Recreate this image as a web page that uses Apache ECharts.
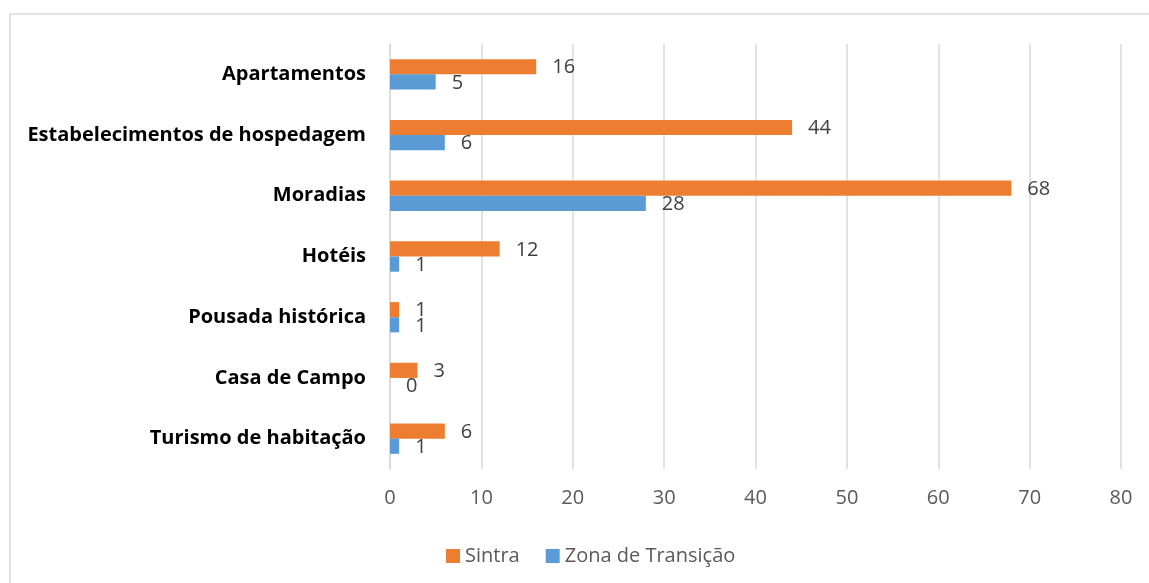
<!DOCTYPE html>
<html>
<head>
<meta charset="utf-8">
<script src="https://cdn.jsdelivr.net/npm/echarts@6/dist/echarts.min.js"></script>
<style>
  html, body { margin: 0; padding: 0; background: #fff; }
  #main { width: 1149px; height: 583px; }
</style>
</head>
<body>
<div id="main"></div>
<script>
// categories listed bottom to top, as the y axis draws them
var categories = ['Turismo de habitação', 'Casa de Campo', 'Pousada histórica', 'Hotéis',
                  'Moradias', 'Estabelecimentos de hospedagem', 'Apartamentos'];
var sintra = [6, 3, 1, 12, 68, 44, 16];
var zonaTransicao = [1, 0, 1, 1, 28, 6, 5];
var xTicks = [0, 10, 20, 30, 40, 50, 60, 70, 80];

var font = 'Open Sans';
var myChart = echarts.init(document.getElementById('main'));

var option = {
  textStyle: { fontFamily: font },
  graphic: [{
    type: 'rect',
    shape: { x: 10, y: 14, width: 1300, height: 700 },
    style: { fill: 'none', stroke: '#d9d9d9', lineWidth: 1.5 },
    silent: true
  }],
  legend: {
    data: ['Sintra', 'Zona de Transição'],
    left: 441,
    top: 541,
    itemWidth: 14,
    itemHeight: 14,
    itemGap: 26,
    icon: 'rect',
    textStyle: { fontFamily: font, fontSize: 20, color: '#595959' }
  },
  grid: {
    left: 390,
    right: 28,
    top: 44,
    bottom: 114,
    containLabel: false
  },
  xAxis: {
    type: 'value',
    min: xTicks[0],
    max: xTicks[xTicks.length - 1],
    interval: 10,
    axisLine: { show: false },
    axisTick: { show: false },
    axisLabel: { fontFamily: font, fontSize: 20, color: '#595959', margin: 19 },
    splitLine: { lineStyle: { color: '#d9d9d9', width: 1.5 } }
  },
  yAxis: {
    type: 'category',
    data: categories,
    axisLine: { show: true, lineStyle: { color: '#d9d9d9', width: 1.5 } },
    axisTick: { show: false },
    axisLabel: { fontFamily: font, fontSize: 20, fontWeight: 'bold', color: '#000', margin: 24 }
  },
  series: [
    {
      name: 'Sintra',
      type: 'bar',
      data: sintra,
      barGap: '0%',
      barCategoryGap: '50%',
      itemStyle: { color: '#ed7d31' },
      label: { show: true, position: 'right', distance: 16, fontFamily: font, fontSize: 20, color: '#404040', offset: [0, 1] }
    },
    {
      name: 'Zona de Transição',
      type: 'bar',
      data: zonaTransicao,
      barGap: '0%',
      barCategoryGap: '50%',
      itemStyle: { color: '#5b9bd5' },
      label: { show: true, position: 'right', distance: 16, fontFamily: font, fontSize: 20, color: '#404040', offset: [0, 1] }
    }
  ]
};

myChart.setOption(option);
</script>
</body>
</html>
